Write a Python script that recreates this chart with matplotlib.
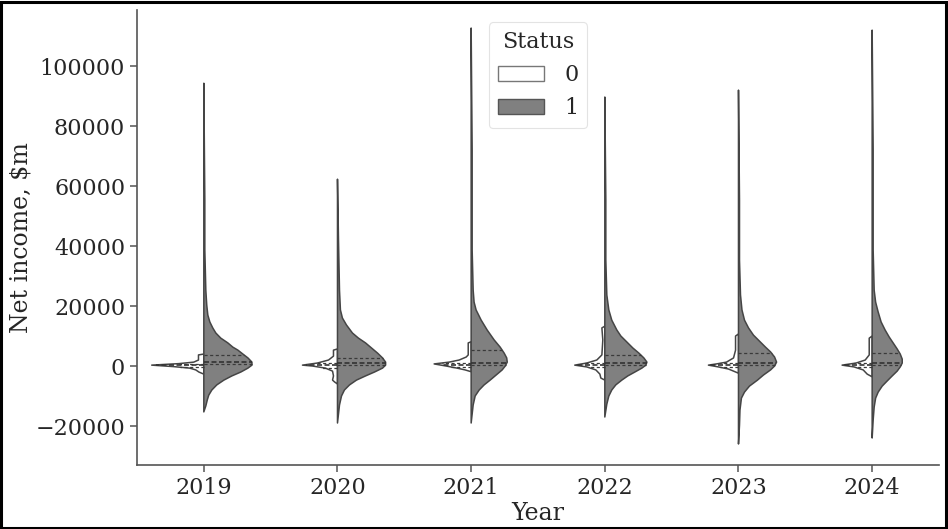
import matplotlib
matplotlib.use("Agg")
import matplotlib.pyplot as plt
import numpy as np
from matplotlib.patches import Patch, Rectangle


YEARS = ["2019", "2020", "2021", "2022", "2023", "2024"]

# density outlines per year: net income ($k) and half-width (category units)
GRAY_Y = {
    "2019": [94.3, 55.3, 38.7, 25.3, 20.3, 17.0, 14.7, 12.7, 11.0, 9.3, 7.7, 6.3, 5.3, 4.0, 2.7, 1.3,
             0.3, -0.7, -2.0, -3.3, -4.7, -6.3, -8.0, -9.7, -11.3, -13.3, -15.3],
    "2020": [62.3, 42.0, 25.3, 18.7, 16.0, 13.7, 11.0, 9.3, 7.7, 6.0, 4.3, 2.7, 1.3, 0.3, -0.7,
             -2.0, -3.3, -4.7, -6.3, -8.0, -10.0, -13.0, -19.0],
    "2021": [112.7, 72.0, 38.7, 25.3, 21.3, 18.7, 15.3, 12.0, 8.7, 6.3, 4.3, 2.7, 1.3, 0.0, -1.3,
             -3.0, -4.7, -6.3, -8.0, -10.0, -13.0, -19.0],
    "2022": [89.7, 55.3, 35.3, 23.7, 18.7, 15.3, 12.0, 10.0, 8.0, 6.0, 4.3, 2.7, 1.3, 0.3, -0.7,
             -2.0, -3.3, -4.7, -6.3, -8.0, -10.0, -12.7, -17.0],
    "2023": [92.0, 55.3, 35.3, 23.7, 18.7, 15.3, 12.7, 10.3, 8.3, 6.3, 4.7, 3.0, 1.3, 0.0, -1.3,
             -3.0, -4.7, -6.7, -8.7, -10.7, -14.7, -19.7, -26.0],
    "2024": [112.0, 72.0, 38.7, 25.3, 21.3, 18.0, 14.7, 12.0, 9.7, 7.7, 5.7, 4.0, 2.3, 1.0, -0.3,
             -1.7, -3.3, -5.0, -6.7, -8.7, -10.7, -13.7, -18.0, -24.0],
}
GRAY_W = {
    "2019": [0, 0.0075, 0.0075, 0.015, 0.022, 0.03, 0.045, 0.067, 0.09, 0.127, 0.18, 0.217, 0.255, 0.292,
             0.33, 0.36, 0.36, 0.33, 0.277, 0.21, 0.15, 0.097, 0.06, 0.037, 0.026, 0.015, 0],
    "2020": [0, 0.0075, 0.015, 0.022, 0.037, 0.067, 0.112, 0.157, 0.21, 0.255, 0.3, 0.337, 0.36, 0.36,
             0.337, 0.277, 0.21, 0.142, 0.09, 0.052, 0.03, 0.015, 0],
    "2021": [0, 0.0075, 0.0075, 0.015, 0.022, 0.037, 0.075, 0.12, 0.172, 0.217, 0.247, 0.266, 0.27,
             0.255, 0.232, 0.187, 0.142, 0.097, 0.06, 0.03, 0.015, 0],
    "2022": [0, 0.0075, 0.0075, 0.015, 0.03, 0.052, 0.09, 0.12, 0.165, 0.21, 0.255, 0.292, 0.315, 0.307,
             0.277, 0.225, 0.172, 0.127, 0.082, 0.052, 0.03, 0.015, 0],
    "2023": [0, 0.0075, 0.0075, 0.015, 0.026, 0.045, 0.075, 0.112, 0.157, 0.202, 0.24, 0.27, 0.285,
             0.27, 0.24, 0.187, 0.142, 0.082, 0.045, 0.022, 0.011, 0.0075, 0],
    "2024": [0, 0.0075, 0.0075, 0.015, 0.026, 0.045, 0.067, 0.097, 0.127, 0.157, 0.187, 0.21, 0.225,
             0.225, 0.21, 0.187, 0.15, 0.112, 0.075, 0.045, 0.026, 0.015, 0.0075, 0],
}
WHITE_Y = {
    "2019": [4.0, 3.7, 2.0, 1.3, 0.8, 0.3, -0.2, -0.7, -1.3, -2.0, -2.7],
    "2020": [5.7, 5.3, 3.3, 2.0, 1.0, 0.3, 0.0, -0.7, -1.7, -3.3, -4.7, -5.3, -6.0],
    "2021": [8.1, 7.7, 3.7, 3.0, 2.0, 1.3, 0.7, 0.0, -0.7, -1.3, -1.9],
    "2022": [13.3, 12.7, 8.7, 3.7, 2.0, 1.0, 0.3, -0.3, -1.3, -2.7, -4.0, -4.7],
    "2023": [10.7, 10.0, 5.3, 2.7, 1.3, 0.7, 0.3, -0.3, -1.0, -1.7, -2.4],
    "2024": [10.0, 9.3, 3.7, 2.0, 1.0, 0.3, -0.3, -1.3, -2.7, -3.6],
}
WHITE_W = {
    "2019": [0, 0.04, 0.04, 0.075, 0.187, 0.39, 0.225, 0.105, 0.06, 0.037, 0],
    "2020": [0, 0.03, 0.03, 0.067, 0.15, 0.262, 0.187, 0.09, 0.037, 0.03, 0.037, 0.022, 0],
    "2021": [0, 0.022, 0.022, 0.037, 0.09, 0.165, 0.277, 0.187, 0.105, 0.045, 0],
    "2022": [0, 0.022, 0.015, 0.022, 0.06, 0.135, 0.225, 0.135, 0.067, 0.037, 0.03, 0],
    "2023": [0, 0.022, 0.022, 0.037, 0.09, 0.165, 0.225, 0.15, 0.075, 0.037, 0],
    "2024": [0, 0.022, 0.022, 0.052, 0.12, 0.225, 0.135, 0.067, 0.037, 0],
}

# quartiles (Q1, median, Q3) in $k
GRAY_Q = {
    "2019": [0.6, 1.4, 3.7],
    "2020": [0.2, 0.9, 2.6],
    "2021": [0.3, 1.0, 5.3],
    "2022": [0.3, 0.9, 3.7],
    "2023": [0.3, 0.9, 4.2],
    "2024": [0.3, 0.9, 4.4],
}
WHITE_Q = {
    "2019": [-0.4, 0.2, 0.8],
    "2020": [-0.5, 0.2, 0.9],
    "2021": [-0.3, 0.3, 1.0],
    "2022": [-0.4, 0.2, 0.9],
    "2023": [-0.4, 0.2, 0.9],
    "2024": [-0.4, 0.2, 0.9],
}

FILL = {"0": "white", "1": "#808080"}
EDGE = "#454545"

plt.rcParams["font.family"] = ["DejaVu Serif"]
plt.rcParams["text.color"] = "#262626"
plt.rcParams["axes.labelcolor"] = "#262626"
plt.rcParams["xtick.color"] = "#262626"
plt.rcParams["ytick.color"] = "#262626"

fig = plt.figure(figsize=(9.48, 5.29), dpi=100)
ax = fig.add_axes([0.1445, 0.121, 0.846, 0.86])


def half_violin(pos, ys, ws, qs, side, color):
    y = np.asarray(ys) * 1000
    w = np.asarray(ws)
    x_out = pos + side * w
    xs = np.concatenate([x_out, [pos, pos]])
    yy = np.concatenate([y, [y[-1], y[0]]])
    ax.fill(xs, yy, facecolor=color, edgecolor=EDGE, linewidth=1.1,
            joinstyle="round", zorder=2)
    order = np.argsort(y)
    for i, q in enumerate(qs):
        qv = q * 1000
        half = np.interp(qv, y[order], w[order])
        if i == 1:
            ax.plot([pos, pos + side * half], [qv, qv], color="#333333",
                    linewidth=1.2, dashes=(3.0, 1.5), zorder=3)
        else:
            ax.plot([pos, pos + side * half], [qv, qv], color="#3a3a3a",
                    linewidth=0.9, dashes=(2.5, 2.0), zorder=3)


for i, yr in enumerate(YEARS):
    half_violin(i, WHITE_Y[yr], WHITE_W[yr], WHITE_Q[yr], -1, FILL["0"])
    half_violin(i, GRAY_Y[yr], GRAY_W[yr], GRAY_Q[yr], 1, FILL["1"])

ax.set_xlim(-0.5, 5.5)
ax.set_ylim(-33000, 118700)
ax.set_xticks(range(len(YEARS)))
ax.set_xticklabels(YEARS)
ax.set_yticks([-20000, 0, 20000, 40000, 60000, 80000, 100000])
ax.set_yticklabels(["\u221220000", "0", "20000", "40000", "60000", "80000", "100000"])
ax.tick_params(labelsize=16, length=5, width=1.1, color="#555555")
ax.set_xlabel("Year", fontsize=17, labelpad=2)
ax.set_ylabel("Net income, $m", fontsize=17, labelpad=2)

for side in ("top", "right"):
    ax.spines[side].set_visible(False)
for side in ("left", "bottom"):
    ax.spines[side].set_color("#555555")
    ax.spines[side].set_linewidth(1.2)

handles = [
    Patch(facecolor=FILL["0"], edgecolor="#777777", linewidth=1.0, label="0"),
    Patch(facecolor=FILL["1"], edgecolor="#555555", linewidth=1.0, label="1"),
]
leg = ax.legend(handles=handles, title="Status", loc="upper center",
                bbox_to_anchor=(0.5, 0.998), fontsize=16, title_fontsize=16,
                frameon=True, borderpad=0.4, labelspacing=0.5, handletextpad=0.9,
                handlelength=2.1)
leg.get_frame().set_edgecolor("#dddddd")
leg.get_frame().set_linewidth(0.8)

# thin black frame around the figure
fig.patches.append(Rectangle((0.001, 0.002), 0.997, 0.995, transform=fig.transFigure,
                             fill=False, edgecolor="black", linewidth=2.2))

fig.savefig("out.png", dpi=100, facecolor="white")
